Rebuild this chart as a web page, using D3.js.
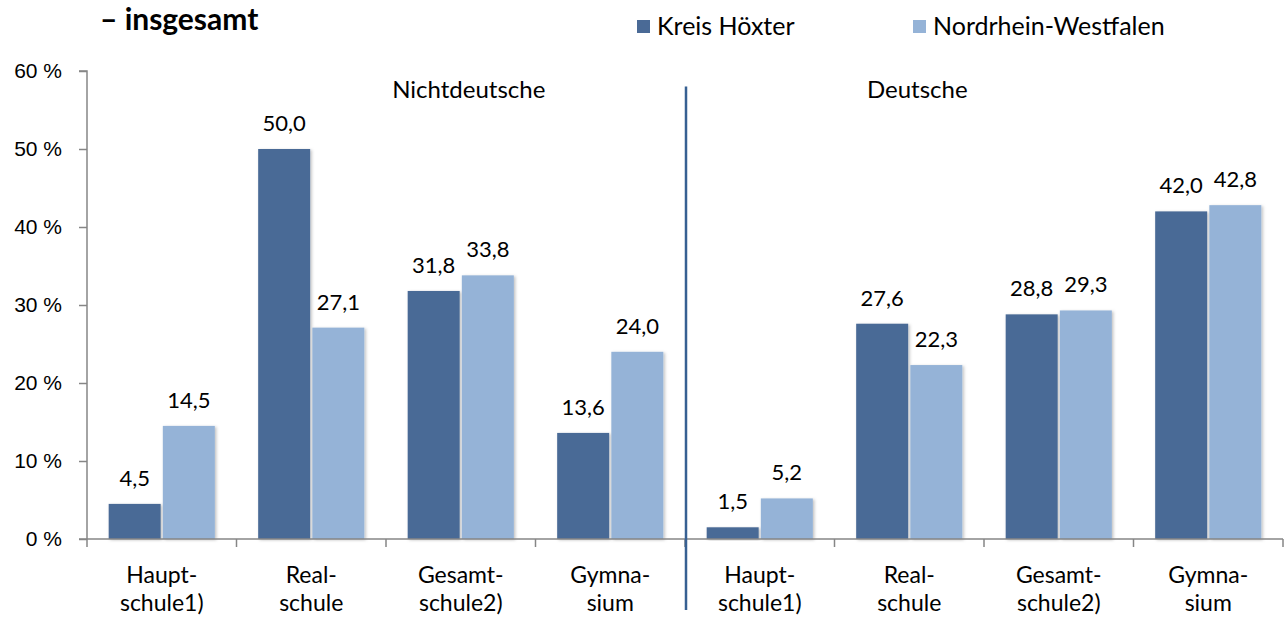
<!DOCTYPE html>
<html>
<head>
<meta charset="utf-8">
<script src="https://cdn.jsdelivr.net/npm/d3@7"></script>
<style>
  body { margin: 0; background: #fff; }
  svg { display: block; font-family: Lato, 'Open Sans', sans-serif; }
</style>
</head>
<body>
<div id="chart"></div>
<script>
// chart data
const title = '– insgesamt'
const seriesNames = ['Kreis Höxter', 'Nordrhein-Westfalen']
const groupNames = ['Nichtdeutsche', 'Deutsche']
const schoolTypes = [
  ['Haupt-', 'schule1)'], ['Real-', 'schule'], ['Gesamt-', 'schule2)'], ['Gymna-', 'sium'],
  ['Haupt-', 'schule1)'], ['Real-', 'schule'], ['Gesamt-', 'schule2)'], ['Gymna-', 'sium']
]
const kreisHoexter = [4.5, 50.0, 31.8, 13.6, 1.5, 27.6, 28.8, 42.0]
const nordrheinWestfalen = [14.5, 27.1, 33.8, 24.0, 5.2, 22.3, 29.3, 42.8]
const yTicks = [0, 10, 20, 30, 40, 50, 60]

const width = 1284
const height = 617
const margin = { top: 71, right: 1, bottom: 78, left: 87 }
const colors = ['#4a6a96', '#95b3d7']

const svg = d3.select('#chart').append('svg').attr('width', width).attr('height', height)

const defs = svg.append('defs')
const shadow = defs.append('filter').attr('id', 'shadow').attr('x', '-20%').attr('y', '-5%').attr('width', '140%').attr('height', '115%')
shadow.append('feDropShadow').attr('dx', 1.5).attr('dy', 1).attr('stdDeviation', 1.5).attr('flood-color', '#000').attr('flood-opacity', 0.25)

const x0 = d3.scaleBand().domain(d3.range(schoolTypes.length)).range([margin.left, width - margin.right]).padding(0)
const bw = x0.bandwidth()
const x1 = d3.scaleBand().domain([0, 1]).range([bw * 0.145, bw * 0.855]).paddingInner(0.04)
const y = d3.scaleLinear().domain([0, 60]).range([height - margin.bottom, margin.top])

const rows = schoolTypes.map((_, i) => [kreisHoexter[i], nordrheinWestfalen[i]])
const fmt = v => d3.format('.1f')(v).replace('.', ',')

// bars
const cat = svg.append('g').selectAll('g').data(rows).enter().append('g')
  .attr('transform', (_, i) => `translate(${x0(i)},0)`)

cat.selectAll('rect').data(d => d).enter().append('rect')
  .attr('x', (_, j) => x1(j))
  .attr('y', d => y(d))
  .attr('width', x1.bandwidth())
  .attr('height', d => y(0) - y(d))
  .attr('fill', (_, j) => colors[j])
  .attr('filter', 'url(#shadow)')

cat.selectAll('text.val').data(d => d).enter().append('text')
  .attr('class', 'val')
  .attr('x', (_, j) => x1(j) + x1.bandwidth() / 2)
  .attr('y', d => y(d) - 18)
  .attr('text-anchor', 'middle')
  .style('font-size', '22px')
  .attr('fill', '#000')
  .text(fmt)

// axes
const yAxis = d3.axisLeft(y).tickValues(yTicks).tickSize(8).tickPadding(17).tickFormat(d => d + ' %')
const gy = svg.append('g').attr('transform', `translate(${margin.left},0)`).call(yAxis)
gy.select('.domain').attr('stroke', '#868686').attr('stroke-width', 1.5).attr('d', `M-8,${y(60)}H0V${y(0)}`)
gy.selectAll('.tick line').attr('stroke', '#868686').attr('stroke-width', 1.5)
gy.selectAll('.tick text').style('font-size', '21px').attr('fill', '#000')

const gx = svg.append('g').attr('transform', `translate(0,${y(0)})`)
gx.append('line').attr('x1', margin.left - 8).attr('x2', width - margin.right).attr('stroke', '#868686').attr('stroke-width', 1.5)
gx.selectAll('line.tick').data(d3.range(schoolTypes.length + 1)).enter().append('line')
  .attr('class', 'tick')
  .attr('x1', i => margin.left + i * bw).attr('x2', i => margin.left + i * bw)
  .attr('y1', 0).attr('y2', 8)
  .attr('stroke', '#868686').attr('stroke-width', 1.5)

const catLabels = gx.selectAll('text').data(schoolTypes).enter().append('text')
  .attr('text-anchor', 'middle')
  .style('font-size', '23px')
  .attr('fill', '#000')
catLabels.selectAll('tspan').data((d, i) => d.map(t => ({ t, i }))).enter().append('tspan')
  .attr('x', d => x0(d.i) + bw / 2)
  .attr('y', (_, k) => 44 + k * 28)
  .text(d => d.t)

// divider and group labels (group labels sit over the 3rd / 2nd category of each half)
const splitX = x0(4) + 1
svg.append('line').attr('x1', splitX).attr('x2', splitX).attr('y1', y(58)).attr('y2', height - 7)
  .attr('stroke', '#376092').attr('stroke-width', 2.5)

const groupLabelCat = [2, 5]
svg.selectAll('text.group').data(groupNames).enter().append('text')
  .attr('class', 'group')
  .attr('x', (_, g) => x0(groupLabelCat[g]) + bw / 2 + 8)
  .attr('y', 98)
  .attr('text-anchor', 'middle')
  .style('font-size', '24px')
  .attr('fill', '#000')
  .text(d => d)

// title
svg.append('text').attr('x', 100).attr('y', 30).style('font-size', '30px').style('font-weight', 'bold').attr('fill', '#000').text(title)

// legend
const legendX = [637, 913]
const legend = svg.selectAll('g.legend').data(seriesNames).enter().append('g')
  .attr('class', 'legend')
  .attr('transform', (_, i) => `translate(${legendX[i]},20)`)
legend.append('rect').attr('width', 13).attr('height', 13).attr('fill', (_, i) => colors[i])
legend.append('text').attr('x', 20).attr('y', 15).style('font-size', '25px').attr('fill', '#000').text(d => d)
</script>
</body>
</html>
